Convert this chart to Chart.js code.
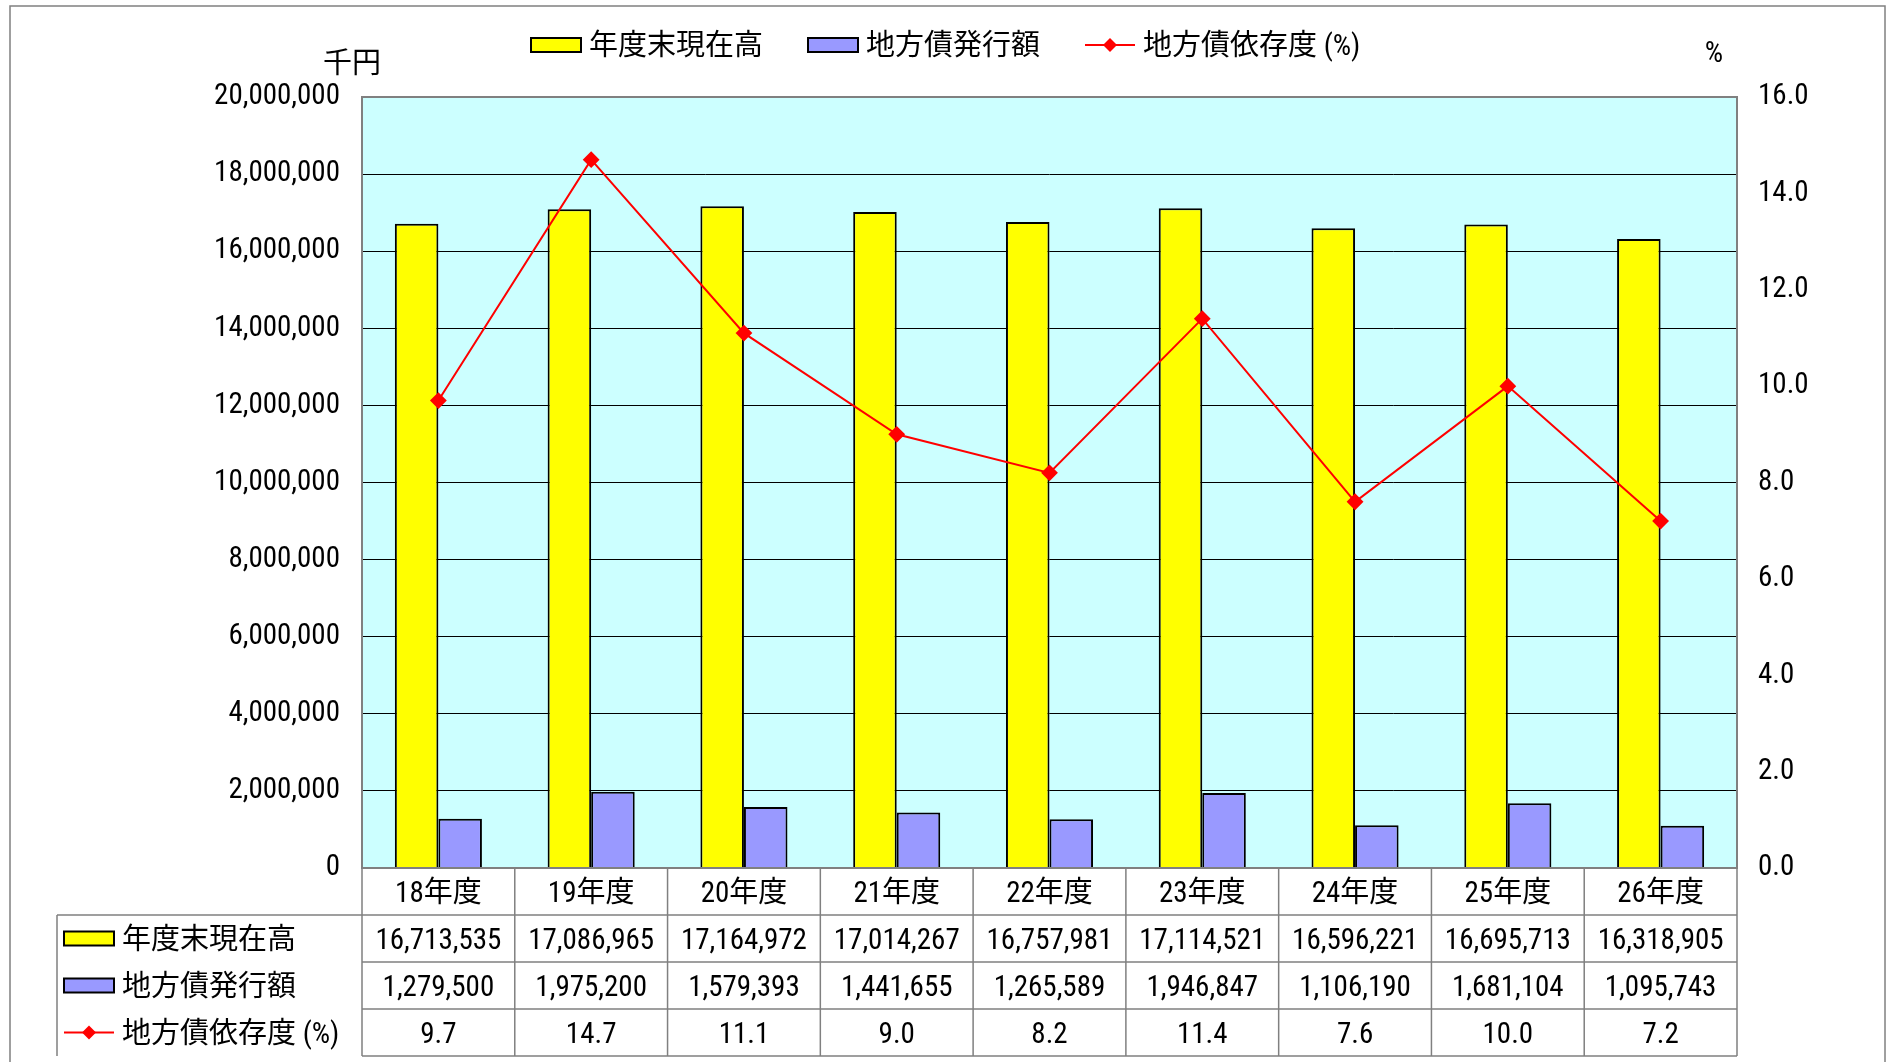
<!DOCTYPE html>
<html lang="ja">
<head>
<meta charset="utf-8">
<title>地方債現在高の推移</title>
<script src="https://cdn.jsdelivr.net/npm/chart.js@4.4.1/dist/chart.umd.min.js"></script>
<style>
  html, body { margin: 0; padding: 0; background: #fff; }
  #wrap { width: 1891px; height: 1062px; }
</style>
</head>
<body>
<div id="wrap"><canvas id="debtChart" width="1891" height="1062"></canvas></div>
<script>
// ── Data ─────────────────────────────────────────────────────────────────────

const years = ['18年度', '19年度', '20年度', '21年度', '22年度', '23年度', '24年度', '25年度', '26年度'];
const balance = [16713535, 17086965, 17164972, 17014267, 16757981, 17114521, 16596221, 16695713, 16318905];
const issued = [1279500, 1975200, 1579393, 1441655, 1265589, 1946847, 1106190, 1681104, 1095743];
const dependency = [9.7, 14.7, 11.1, 9.0, 8.2, 11.4, 7.6, 10.0, 7.2];
const seriesNames = ['年度末現在高', '地方債発行額', '地方債依存度 (%)'];

const leftMax = 20000000, leftStep = 2000000;
const rightMax = 16, rightStep = 2;
const leftUnit = '千円', rightUnit = '%';

// ── Look ─────────────────────────────────────────────────────────────────────

const FONT = "'Roboto Condensed', 'Noto Sans CJK JP', sans-serif";
const FONT_SIZE = 29;
const TEXT_DY = 3; // Roboto sits a bit high on a 'middle' baseline
const YELLOW = '#ffff00';
const PURPLE = '#9999ff';
const RED = '#ff0000';
const PLOT_BG = '#ccffff';
const FRAME = '#808080';

const fmtInt = n => n.toLocaleString('en-US');
const fmtPct = n => n.toFixed(1);

// one legend key: filled box for bars, line + diamond for the line series
function drawKey(ctx, kind, x, y) {
  ctx.save();
  if (kind === 'line') {
    ctx.strokeStyle = RED;
    ctx.lineWidth = 2;
    ctx.beginPath();
    ctx.moveTo(x, y);
    ctx.lineTo(x + 50, y);
    ctx.stroke();
    ctx.fillStyle = RED;
    ctx.beginPath();
    ctx.moveTo(x + 25, y - 7);
    ctx.lineTo(x + 32, y);
    ctx.lineTo(x + 25, y + 7);
    ctx.lineTo(x + 18, y);
    ctx.closePath();
    ctx.fill();
  } else {
    ctx.fillStyle = kind;
    ctx.fillRect(x, y - 7, 50, 14);
    ctx.strokeStyle = '#000';
    ctx.lineWidth = 2;
    ctx.strokeRect(x, y - 7, 50, 14);
  }
  ctx.restore();
}

const keyKinds = [YELLOW, PURPLE, 'line'];

// ── Plugins ──────────────────────────────────────────────────────────────────

const plotBackground = {
  id: 'plotBackground',
  beforeDraw(chart) {
    const { ctx, chartArea: a } = chart;
    ctx.save();
    ctx.fillStyle = PLOT_BG;
    ctx.fillRect(a.left, a.top, a.right - a.left, a.bottom - a.top);
    ctx.restore();
  }
};

const frameAndLegend = {
  id: 'frameAndLegend',
  afterDraw(chart) {
    const { ctx, chartArea: a } = chart;
    ctx.save();
    // outer frame
    ctx.strokeStyle = FRAME;
    ctx.lineWidth = 1.5;
    ctx.strokeRect(10, 6, 1875, 1100);
    // plot border
    ctx.lineWidth = 2;
    ctx.strokeRect(a.left, a.top, a.right - a.left, a.bottom - a.top);

    ctx.fillStyle = '#000';
    ctx.font = `${FONT_SIZE}px ${FONT}`;
    ctx.textBaseline = 'middle';
    ctx.textAlign = 'center';
    ctx.fillText(leftUnit, 352, 63 + TEXT_DY);
    ctx.fillText(rightUnit, 1714, 52 + TEXT_DY);

    // top legend
    ctx.textAlign = 'left';
    const keyX = [531, 808, 1085];
    seriesNames.forEach((name, i) => {
      drawKey(ctx, keyKinds[i], keyX[i], 45);
      ctx.fillText(name, keyX[i] + 58, 45 + TEXT_DY);
    });
    ctx.restore();
  }
};

const dataTable = {
  id: 'dataTable',
  afterDraw(chart) {
    const { ctx, chartArea: a, scales: { x } } = chart;
    const rowH = 47;
    const top = a.bottom;
    const tableLeft = 57;
    const colW = x.getPixelForValue(1) - x.getPixelForValue(0);
    const edges = years.map((_, i) => x.getPixelForValue(i) - colW / 2);
    edges.push(a.right);

    ctx.save();
    ctx.strokeStyle = FRAME;
    ctx.lineWidth = 1.5;
    ctx.beginPath();
    for (let r = 1; r <= 4; r++) {
      ctx.moveTo(r === 1 ? tableLeft : a.left, top + r * rowH);
      ctx.lineTo(a.right, top + r * rowH);
    }
    ctx.moveTo(tableLeft, top + rowH);
    ctx.lineTo(tableLeft, top + 4 * rowH);
    edges.forEach(e => {
      ctx.moveTo(e, top);
      ctx.lineTo(e, top + 4 * rowH);
    });
    ctx.stroke();

    ctx.fillStyle = '#000';
    ctx.font = `${FONT_SIZE}px ${FONT}`;
    ctx.textBaseline = 'middle';
    ctx.textAlign = 'center';
    years.forEach((y, i) => ctx.fillText(y, x.getPixelForValue(i), top + rowH / 2 + TEXT_DY));

    const rows = [balance.map(fmtInt), issued.map(fmtInt), dependency.map(fmtPct)];
    rows.forEach((vals, r) => {
      const cy = top + (r + 1.5) * rowH + TEXT_DY;
      vals.forEach((v, i) => ctx.fillText(v, x.getPixelForValue(i), cy));
    });

    ctx.textAlign = 'left';
    seriesNames.forEach((name, r) => {
      const cy = top + (r + 1.5) * rowH;
      drawKey(ctx, keyKinds[r], 64, cy);
      ctx.fillText(name, 122, cy + TEXT_DY);
    });
    ctx.restore();
  }
};

// ── Chart ────────────────────────────────────────────────────────────────────

const tickFont = { family: FONT, size: FONT_SIZE };

new Chart(document.getElementById('debtChart'), {
  type: 'bar',
  data: {
    labels: years,
    datasets: [
      {
        type: 'line',
        label: seriesNames[2],
        data: dependency,
        yAxisID: 'y2',
        order: 0,
        borderColor: RED,
        borderWidth: 2,
        pointStyle: 'rectRot',
        pointRadius: 7,
        pointBackgroundColor: RED,
        pointBorderColor: RED,
        tension: 0,
      },
      {
        label: seriesNames[0],
        data: balance,
        yAxisID: 'y',
        order: 1,
        backgroundColor: YELLOW,
        borderColor: '#000',
        borderWidth: 2,
      },
      {
        label: seriesNames[1],
        data: issued,
        yAxisID: 'y',
        order: 2,
        backgroundColor: PURPLE,
        borderColor: '#000',
        borderWidth: 2,
      },
    ]
  },
  options: {
    responsive: false,
    animation: false,
    devicePixelRatio: 1,
    layout: { padding: { top: 97, bottom: 194, left: 0, right: 0 } },
    datasets: { bar: { barPercentage: 1, categoryPercentage: 0.57 } },
    plugins: {
      legend: { display: false },
      tooltip: { enabled: false },
    },
    scales: {
      x: { display: false },
      y: {
        position: 'left',
        min: 0,
        max: leftMax,
        afterFit: s => { s.width = 362; },
        border: { display: false },
        grid: { color: '#000', lineWidth: 1, drawTicks: false },
        ticks: { stepSize: leftStep, padding: 22, color: '#000', font: tickFont, callback: v => fmtInt(v) },
      },
      y2: {
        position: 'right',
        min: 0,
        max: rightMax,
        afterFit: s => { s.width = 154; },
        border: { display: false },
        grid: { drawOnChartArea: false, drawTicks: false },
        ticks: { stepSize: rightStep, padding: 21, color: '#000', font: tickFont, callback: v => fmtPct(v) },
      },
    }
  },
  plugins: [plotBackground, frameAndLegend, dataTable]
});
</script>
</body>
</html>
